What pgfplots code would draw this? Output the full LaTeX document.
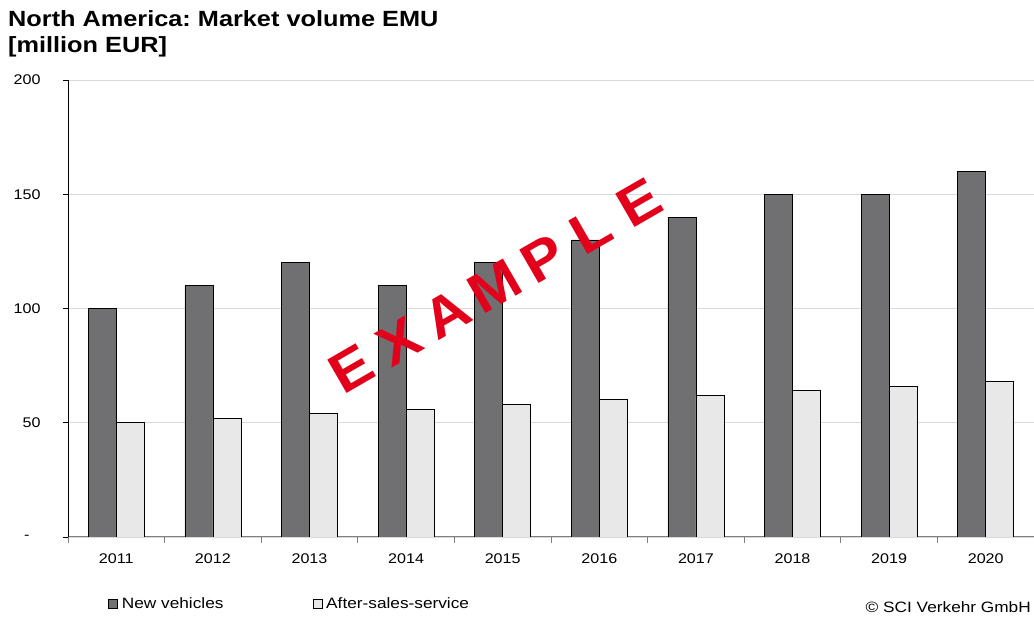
\documentclass[border=0pt]{standalone}
\usepackage{pgfplots}
\pgfplotsset{compat=1.18}
\usepackage{fontspec}
\setmainfont{Liberation Sans}[FakeStretch=1.15]
\newfontfamily\wmfont{Liberation Sans}[FakeStretch=1.08]
\definecolor{darkbar}{RGB}{112,112,114}
\definecolor{lightbar}{RGB}{232,232,232}
\definecolor{gridc}{RGB}{217,217,217}
\definecolor{axgray}{RGB}{128,128,128}
\definecolor{exred}{RGB}{226,0,26}
\newcommand{\wl}[1]{\makebox[55.4pt]{#1}}
\frenchspacing
\begin{document}
\begin{tikzpicture}[x=1pt,y=1pt]
\path[use as bounding box] (0,0) rectangle (1034,617);
\begin{axis}[
  at={(68pt,80pt)}, anchor=south west,
  scale only axis, width=966pt, height=457pt,
  ybar=0pt, bar width=28pt,
  xmin=-0.5, xmax=9.5, ymin=0, ymax=200,
  xtick={0,1,2,3,4,5,6,7,8,9},
  xticklabels={2011,2012,2013,2014,2015,2016,2017,2018,2019,2020},
  minor xtick={-0.5,0.5,1.5,2.5,3.5,4.5,5.5,6.5,7.5,8.5,9.5},
  ytick={0,50,100,150,200},
  yticklabels={{-\makebox[11pt]{}},50,100,150,200},
  /pgf/number format/assume math mode=true,
  tick align=outside,
  major tick length=5pt, minor tick length=6pt,
  major x tick style={draw=none},
  minor x tick style={draw=axgray, line width=0.8pt},
  major y tick style={draw=black, line width=0.8pt},
  axis x line*=bottom, axis y line*=left,
  x axis line style={draw=axgray, line width=1pt},
  y axis line style={draw=black, line width=0.8pt},
  ymajorgrids, grid style={draw=gridc, line width=0.8pt},
  xticklabel style={font=\fontsize{14}{16}\selectfont, yshift=-8pt},
  yticklabel style={font=\fontsize{14}{16}\selectfont, xshift=-19pt},
  legend style={draw=none, fill=none, inner sep=0pt, anchor=west,
    at={(axis description cs:0.0414,-0.1466)},
    font=\fontsize{15}{17}\selectfont,
    column sep=2pt,
    /tikz/every even column/.append style={column sep=87pt}},
  legend columns=2,
  legend image code/.code={\draw[#1,draw=black,line width=0.7pt] (0pt,-4.5pt) rectangle (9pt,4.5pt);},
]
\addplot[fill=darkbar, draw=black, line width=0.8pt] coordinates {
 (0,100) (1,110) (2,120) (3,110) (4,120) (5,130) (6,140) (7,150) (8,150) (9,160)};
\addplot[fill=lightbar, draw=black, line width=0.8pt] coordinates {
 (0,50) (1,52) (2,54) (3,56) (4,58) (5,60) (6,62) (7,64) (8,66) (9,68)};
\legend{New vehicles, After-sales-service}
\end{axis}
\node[anchor=base west, inner sep=0pt, font=\fontsize{22}{26}\selectfont\bfseries] at (8,590) {North America: Market volume EMU};
\node[anchor=base west, inner sep=0pt, font=\fontsize{22}{26}\selectfont\bfseries] at (8,564) {[million EUR]};
\node[anchor=base east, inner sep=0pt, font=\fontsize{15}{17}\selectfont] at (1031,4) {© SCI Verkehr GmbH};
\node[rotate=30, inner sep=0pt, text=exred, font=\wmfont\bfseries\fontsize{56}{56}\selectfont] at (495,331) {\wl{E}\wl{X}\wl{A}\wl{M}\wl{P}\wl{L}\wl{E}};
\end{tikzpicture}
\end{document}
